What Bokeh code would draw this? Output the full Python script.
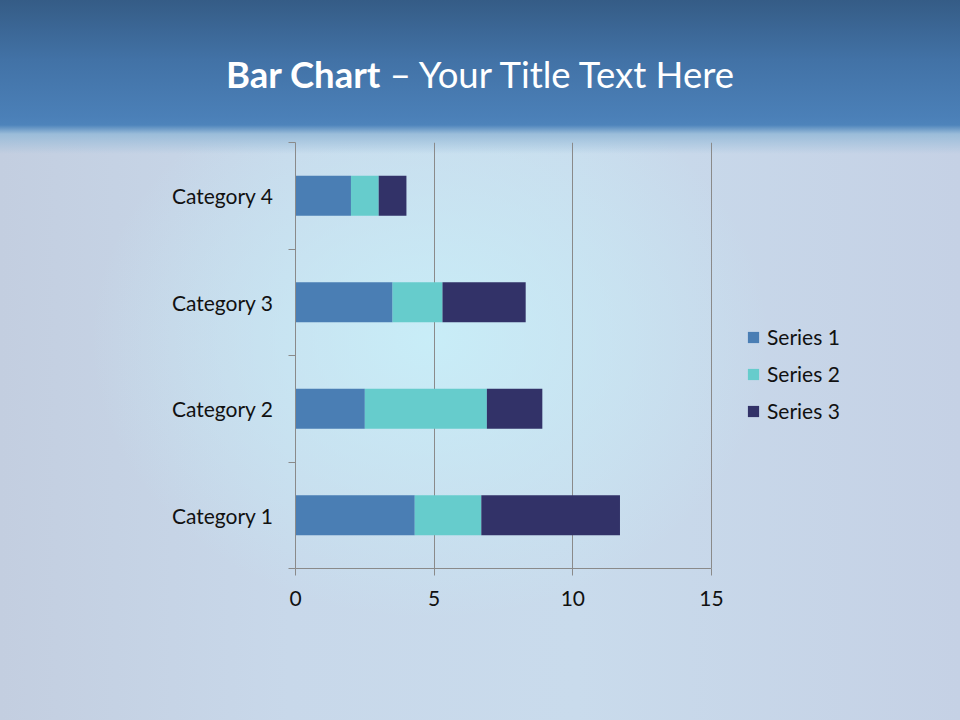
from bokeh.plotting import figure
from bokeh.models import (ColumnDataSource, FixedTicker, Legend, LegendItem, Div)
from bokeh.layouts import column
from bokeh.embed import file_html
from bokeh.resources import INLINE

title_bold = "Bar Chart"
title_rest = "– Your Title Text Here"
categories = ["Category 1", "Category 2", "Category 3", "Category 4"]
series_names = ["Series 1", "Series 2", "Series 3"]
series1 = [4.3, 2.5, 3.5, 2.0]
series2 = [2.4, 4.4, 1.8, 1.0]
series3 = [5.0, 2.0, 3.0, 1.0]
x_ticks = [0, 5, 10, 15]
x_max = 15
colors = ["#4a7eb4", "#66cccc", "#323268"]

ypos = [i + 0.5 for i in range(len(categories))]
source = ColumnDataSource(data={"y": ypos, "Series 1": series1,
                                "Series 2": series2, "Series 3": series3})

W, H = 960, 720
HEAD = 134
LEFT = 295
PLOT_W = 416          # pixel width of the 0..15 axis
FRAME_W = W - LEFT    # frame extended to the right to host the legend

title = Div(
    text=(f'<div style="width:{W}px;text-align:center;padding-top:56px;'
          f'font-family:Lato;font-size:36.5px;line-height:1;color:white;">'
          f'<b>{title_bold}</b> {title_rest}</div>'),
    width=W, height=HEAD, margin=0)

p = figure(frame_width=FRAME_W, frame_height=426, output_backend="svg", toolbar_location=None,
           x_range=(0, x_max * FRAME_W / PLOT_W), y_range=(0, len(categories)),
           min_border_left=LEFT, min_border_right=0,
           min_border_top=8, min_border_bottom=152, margin=0)
p.border_fill_color = None
p.background_fill_color = None
p.outline_line_color = None

renderers = p.hbar_stack(series_names, y="y", height=0.375, color=colors,
                         line_color=None, source=source)

# x axis
xa = p.xaxis[0]
xa.bounds = (0, x_max)
xa.ticker = FixedTicker(ticks=x_ticks)
xa.axis_line_color = "#8a8a8a"
xa.major_tick_line_color = "#8a8a8a"
xa.major_tick_out = 7
xa.major_tick_in = 0
xa.minor_tick_line_color = None
xa.major_label_text_font = "Lato"
xa.major_label_text_font_size = "21px"
xa.major_label_text_color = "#111111"
xa.major_label_standoff = 15

# y axis
ya = p.yaxis[0]
ya.ticker = FixedTicker(ticks=ypos, minor_ticks=list(range(len(categories) + 1)))
ya.major_label_overrides = {y: c for y, c in zip(ypos, categories)}
ya.axis_line_color = "#8a8a8a"
ya.major_tick_line_color = None
ya.major_tick_out = 0
ya.major_tick_in = 0
ya.minor_tick_line_color = "#8a8a8a"
ya.minor_tick_out = 7
ya.minor_tick_in = 0
ya.major_label_text_font = "Lato"
ya.major_label_text_font_size = "21px"
ya.major_label_text_color = "#111111"
ya.major_label_standoff = 15

p.xgrid.grid_line_color = "#8a8a8a"
p.xgrid.ticker = FixedTicker(ticks=x_ticks)
p.ygrid.grid_line_color = None

legend = Legend(items=[LegendItem(label=n, renderers=[r]) for n, r in zip(series_names, renderers)],
                location=(451, 145), orientation="vertical",
                glyph_width=14, glyph_height=14, label_height=20, spacing=12,
                label_standoff=7, padding=0, margin=0,
                border_line_color=None, background_fill_alpha=0,
                label_text_font="Lato", label_text_font_size="21px",
                label_text_color="#111111")
p.add_layout(legend, "center")

layout = column(title, p, spacing=0, margin=0)
layout.styles = {
    "background": (
        "linear-gradient(to bottom, #355c86 0px, #4272a6 60px, #4b80b8 118px, "
        "#4e84bb 125px, rgba(150,186,216,0.9) 134px, rgba(190,215,235,0) 154px), "
        "radial-gradient(ellipse 340px 280px at 430px 340px, rgba(200,238,248,0.95), "
        "rgba(200,238,248,0) 100%), "
        "linear-gradient(to right, #c3cee0 0%, #c8d8ea 30%, #c9dbec 60%, #c5d1e5 100%)"
    ),
    "width": f"{W}px", "height": f"{H}px",
}

open("out.html", "w").write(file_html(layout, INLINE))
